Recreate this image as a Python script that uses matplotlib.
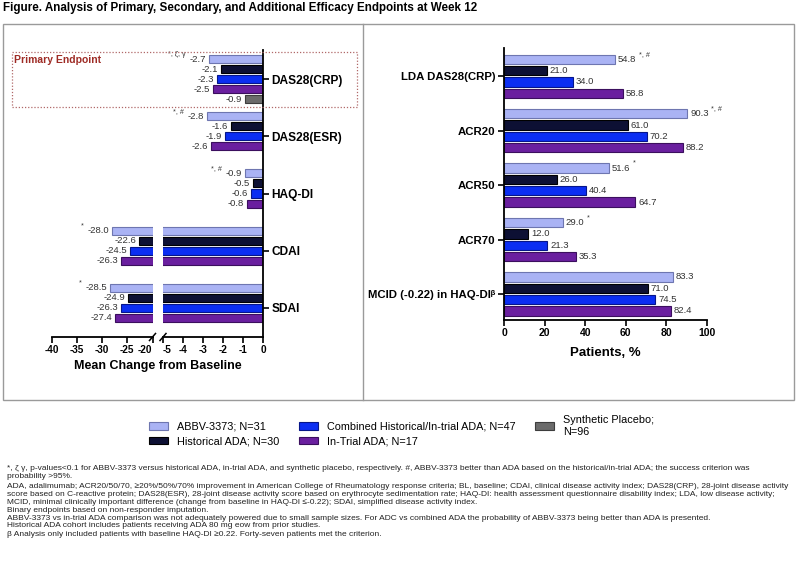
import numpy as np
import matplotlib
matplotlib.use("Agg")
import matplotlib.pyplot as plt
from matplotlib.patches import Rectangle, Patch
from matplotlib.lines import Line2D

plt.rcParams['font.family'] = ['Liberation Sans', 'DejaVu Sans']
plt.rcParams['axes.unicode_minus'] = False

# ---------------- data ----------------
cats_left = ["DAS28(CRP)", "DAS28(ESR)", "HAQ-DI", "CDAI", "SDAI"]
abbv_left = [-2.7, -2.8, -0.9, -28.0, -28.5]
hist_left = [-2.1, -1.6, -0.5, -22.6, -24.9]
comb_left = [-2.3, -1.9, -0.6, -24.5, -26.3]
trial_left = [-2.5, -2.6, -0.8, -26.3, -27.4]
placebo_left = [-0.9, None, None, None, None]
sig_left = ["*, ζ, γ", "*, #", "*, #", "*", "*"]

cats_right = ["LDA DAS28(CRP)", "ACR20", "ACR50", "ACR70",
              "MCID (-0.22) in HAQ-DI\u1D5D"]
abbv_right = [54.8, 90.3, 51.6, 29.0, 83.3]
hist_right = [21.0, 61.0, 26.0, 12.0, 71.0]
comb_right = [34.0, 70.2, 40.4, 21.3, 74.5]
trial_right = [58.8, 88.2, 64.7, 35.3, 82.4]
sig_right = ["*, #", "*, #", "*", "*", ""]

series_names = ["ABBV-3373; N=31", "Historical ADA; N=30",
                "Combined Historical/In-trial ADA; N=47", "In-Trial ADA; N=17",
                "Synthetic Placebo;\nN=96"]
face = ["#aab3f4", "#0d1034", "#0b2ef2", "#6a1f9f", "#6b6b6b"]
edge = ["#6e76b0", "#000000", "#06168a", "#3b0f5e", "#3d3d3d"]

W, H = 800, 570
fig = plt.figure(figsize=(W / 100, H / 100), dpi=100)


def fx(px):
    return px / W


def fy(py):
    return 1 - py / H


def axes_px(x0, y0, x1, y1):
    return fig.add_axes([fx(x0), fy(y1), (x1 - x0) / W, (y1 - y0) / H])


# ---------------- frames ----------------
fig.add_artist(Rectangle((fx(3), fy(400)), (794 - 3) / W, (400 - 24) / H,
                         transform=fig.transFigure, fill=False, ec="#9a9a9a", lw=1.0))
fig.add_artist(Line2D([fx(363), fx(363)], [fy(24), fy(400)],
                      transform=fig.transFigure, color="#9a9a9a", lw=1.0))

fig.text(fx(3), fy(8), "Figure. Analysis of Primary, Secondary, and Additional Efficacy Endpoints at Week 12",
         fontsize=8.4, fontweight="bold", ha="left", va="center")

# ---------------- left panel (broken axis) ----------------
gap_l = 5.7
ax_r = axes_px(163, 50, 263, 337)
ax_l = axes_px(52, 50, 152.5, 337)
series_left = [abbv_left, hist_left, comb_left, trial_left, placebo_left]

for ax in (ax_l, ax_r):
    for j, vals in enumerate(series_left):
        for i, v in enumerate(vals):
            if v is None:
                continue
            ax.barh(i * gap_l + (j - 2), v, height=0.8, color=face[j],
                    edgecolor=edge[j], linewidth=0.8, zorder=2)
    ax.set_ylim(4 * gap_l + 2.9, -2.9)
    ax.spines["top"].set_visible(False)
    ax.spines["left"].set_visible(False)
    ax.spines["bottom"].set_linewidth(1.3)
    ax.tick_params(axis="x", direction="out", length=4, width=1.2, labelsize=7.2, pad=2)

ax_l.set_xlim(-40, -20)
ax_l.set_xticks(np.arange(-40, -19, 5))
ax_l.spines["right"].set_visible(False)
ax_l.set_yticks([])
ax_r.set_xlim(-5, 0)
ax_r.set_xticks(np.arange(-5, 0.5, 1))
ax_r.spines["right"].set_linewidth(1.3)
ax_r.yaxis.tick_right()
ax_r.set_yticks([i * gap_l for i in range(len(cats_left))])
ax_r.set_yticklabels(cats_left, fontsize=8.6, fontweight="bold")
ax_r.tick_params(axis="y", direction="out", length=4, width=1.2, pad=2)
for ax in (ax_l, ax_r):
    for lab in ax.get_xticklabels():
        lab.set_fontweight("bold")
# the two labels that meet at the break
ax_l.get_xticklabels()[-1].set_horizontalalignment("right")
ax_r.get_xticklabels()[0].set_horizontalalignment("left")

# value labels
for j, vals in enumerate(series_left):
    for i, v in enumerate(vals):
        if v is None:
            continue
        ax = ax_l if v < -5 else ax_r
        lbl = ax.annotate(f"{v:.1f}", xy=(v, i * gap_l + (j - 2)), xytext=(-2, 0),
                          textcoords="offset points", ha="right", va="center",
                          fontsize=6.8, color="#333333", annotation_clip=False)
        if j == 0:
            ax.annotate(sig_left[i], xy=(0, 0.5), xycoords=lbl, xytext=(-3, 1),
                        textcoords="offset points", ha="right", va="bottom",
                        fontsize=5.2, color="#333333", annotation_clip=False)

# break marks
for xb in (152.5, 163):
    fig.add_artist(Line2D([fx(xb - 3), fx(xb + 3)], [fy(340.5), fy(333.5)],
                          transform=fig.transFigure, color="black", lw=1.1))

fig.text(fx(158), fy(366), "Mean Change from Baseline", fontsize=9, fontweight="bold",
         ha="center", va="center")

# primary endpoint box
fig.add_artist(Rectangle((fx(12), fy(107)), (357 - 12) / W, (107 - 52) / H,
                         transform=fig.transFigure, fill=False, ec="#b06868", lw=0.9,
                         ls=(0, (1, 1.5)), zorder=5))
fig.text(fx(14), fy(55), "Primary Endpoint", fontsize=7.5, fontweight="bold",
         color="#9e2b25", ha="left", va="top")

# ---------------- right panel ----------------
gap_r = 4.8
ax2 = axes_px(504, 48, 707, 320)
series_right = [abbv_right, hist_right, comb_right, trial_right]
for j, vals in enumerate(series_right):
    for i, v in enumerate(vals):
        y = i * gap_r + (j - 1.5)
        ax2.barh(y, v, height=0.82, color=face[j], edgecolor=edge[j], linewidth=0.8, zorder=2)
        lbl = ax2.annotate(f"{v:.1f}", xy=(v, y), xytext=(2, 0), textcoords="offset points",
                           ha="left", va="center", fontsize=6.8, color="#333333",
                           annotation_clip=False)
        if j == 0 and sig_right[i]:
            ax2.annotate(sig_right[i], xy=(1, 0.5), xycoords=lbl, xytext=(2, 1),
                         textcoords="offset points", ha="left", va="bottom",
                         fontsize=5.2, color="#333333", annotation_clip=False)

ax2.set_xlim(0, 100)
ax2.set_ylim(4 * gap_r + 2.3, -2.5)
ax2.set_xticks(np.arange(0, 101, 20))
ax2.set_yticks([i * gap_r for i in range(len(cats_right))])
ax2.set_yticklabels(cats_right, fontsize=8.2, fontweight="bold")
ax2.spines["top"].set_visible(False)
ax2.spines["right"].set_visible(False)
ax2.spines["left"].set_linewidth(1.3)
ax2.spines["bottom"].set_linewidth(1.3)
ax2.tick_params(axis="both", direction="out", length=4, width=1.2, pad=2)
ax2.tick_params(axis="x", labelsize=7.5)
for lab in ax2.get_xticklabels():
    lab.set_fontweight("bold")
ax2.set_xlabel("Patients, %", fontsize=9.5, fontweight="bold", labelpad=6)

# ---------------- legend ----------------
handles = [Patch(facecolor=face[j], edgecolor=edge[j], linewidth=0.8) for j in range(5)]
fig.legend(handles, series_names, ncol=3, loc="upper left",
           bbox_to_anchor=(fx(149), fy(415)), frameon=False, fontsize=7.8,
           handlelength=1.75, handleheight=0.65, handletextpad=0.8,
           columnspacing=1.85, labelspacing=0.45, borderaxespad=0, borderpad=0)

# ---------------- footnotes ----------------
foot = [
    ("*, ζ γ, p-values<0.1 for ABBV-3373 versus historical ADA, in-trial ADA, and synthetic placebo, respectively. #, ABBV-3373 better than ADA based on the historical/in-trial ADA; the success criterion was", 469),
    ("probability >95%.", 477),
    ("ADA, adalimumab; ACR20/50/70, ≥20%/50%/70% improvement in American College of Rheumatology response criteria; BL, baseline; CDAI, clinical disease activity index; DAS28(CRP), 28-joint disease activity", 486),
    ("score based on C-reactive protein; DAS28(ESR), 28-joint disease activity score based on erythrocyte sedimentation rate; HAQ-DI: health assessment questionnaire disability index; LDA, low disease activity;", 494),
    ("MCID, minimal clinically important difference (change from baseline in HAQ-DI ≤-0.22); SDAI, simplified disease activity index.", 502),
    ("Binary endpoints based on non-responder imputation.", 510),
    ("ABBV-3373 vs in-trial ADA comparison was not adequately powered due to small sample sizes. For ADC vs combined ADA the probability of ABBV-3373 being better than ADA is presented.", 518),
    ("Historical ADA cohort includes patients receiving ADA 80 mg eow from prior studies.", 525.5),
    ("β Analysis only included patients with baseline HAQ-DI ≥0.22. Forty-seven patients met the criterion.", 535),
]
for txt, ypx in foot:
    fig.text(fx(7), fy(ypx), txt, fontsize=6.0, color="#222222", ha="left", va="center")

fig.savefig("out.png", dpi=100)
